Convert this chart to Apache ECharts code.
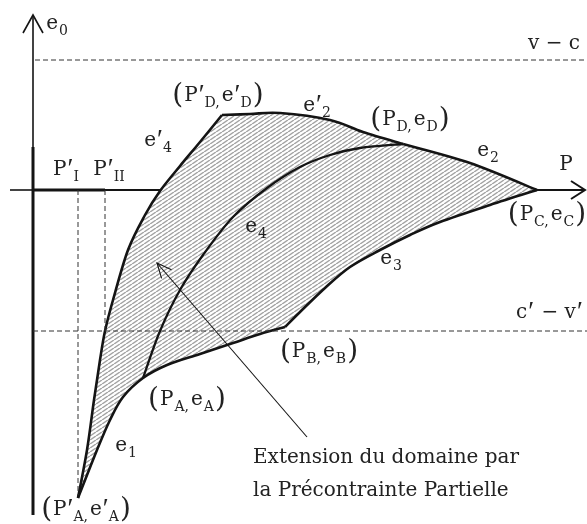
<!DOCTYPE html>
<html>
<head>
<meta charset="utf-8">
<script src="https://cdn.jsdelivr.net/npm/echarts/dist/echarts.min.js"></script>
<style>
  html, body { margin: 0; padding: 0; background: #fff; }
  #chart { width: 587px; height: 524px; }
</style>
</head>
<body>
<div id="chart"></div>
<script>
// Boundary curves of the admissible (P, e0) domain, in axis units.
const curveE4p = [[45,-308],[54,-260],[61,-210],[67,-170],[72,-141],[80,-110],[95,-60],[112,-25],[127,-1],[147,24],[167,48],[189,75]];
const curveE2p = [[189,75],[217,76],[247,77],[297,70],[330,58],[370,46]];
const curveE2  = [[370,46],[437,27],[504,0]];
const curveE3  = [[504,0],[457,-15],[407,-32],[377,-45],[347,-60],[317,-77],[292,-98],[267,-122],[252,-137]];
const curveE1  = [[252,-137],[227,-144],[200,-153],[167,-164],[134,-175],[110,-188],[90,-207],[77,-230],[64,-260],[45,-308]];
const curveE4  = [[110,-188],[127,-141],[147,-100],[170,-65],[200,-27],[234,2],[267,23],[297,35],[327,42],[370,46]];

// Limits: v - c above, c' - v' below, and the P'I / P'II abscissae.
const limitVC  = 130;
const limitCV  = -141;
const pI  = 45;
const pII = 72;
const pA  = -305;

// Axes (P horizontal, e0 vertical).
const axisV_thin  = [[0,175],[0,43]];
const axisV_thick = [[0,43],[0,-325]];
const axisH_left  = [[-23,0],[0,0]];
const axisH_thick = [[0,0],[pII,0]];
const axisH_mid   = [[pII,0],[127,0]];
const axisH_right = [[504,0],[552,0]];
const arrowE0 = [[-10,157],[0,175],[10,157]];
const arrowP  = [[538,9],[552,0],[538,-9]];

// Pointer from the caption to the hatched extension.
const pointer = [[274,-247],[124,-73]];

// Text annotations: anchor (axis units), rich text, alignment.
const labels = [
  { at: [24,166],   text: '{m|e}{s|0}', align: 'center' },
  { at: [521,146],  text: '{m|v − c}', align: 'center' },
  { at: [185,94],   text: '{p|(}{m|P}{q|′}{s|D,}{m|e}{q|′}{s|D}{p|)}', align: 'center' },
  { at: [284,84],   text: '{m|e}{q|′}{s|2}', align: 'center' },
  { at: [377,70],   text: '{p|(}{m|P}{s|D,}{m|e}{s|D}{p|)}', align: 'center' },
  { at: [455,39],   text: '{m|e}{s|2}', align: 'center' },
  { at: [533,25],   text: '{m|P}', align: 'center' },
  { at: [514,-25],  text: '{p|(}{m|P}{s|C,}{m|e}{s|C}{p|)}', align: 'center' },
  { at: [125,49],   text: '{m|e}{q|′}{s|4}', align: 'center' },
  { at: [33,20],    text: '{m|P}{q|′}{s|I}', align: 'center' },
  { at: [76,20],    text: '{m|P}{q|′}{s|II}', align: 'center' },
  { at: [223,-37],  text: '{m|e}{s|4}', align: 'center' },
  { at: [358,-69],  text: '{m|e}{s|3}', align: 'center' },
  { at: [482,-123], text: '{m|c}{q|′}{m| − v}{q|′}', align: 'left' },
  { at: [286,-162], text: '{p|(}{m|P}{s|B,}{m|e}{s|B}{p|)}', align: 'center' },
  { at: [154,-210], text: '{p|(}{m|P}{s|A,}{m|e}{s|A}{p|)}', align: 'center' },
  { at: [93,-256],  text: '{m|e}{s|1}', align: 'center' },
  { at: [220,-268], text: '{t|Extension du domaine par}', align: 'left' },
  { at: [220,-301], text: '{t|la Précontrainte Partielle}', align: 'left' },
  { at: [53,-320],  text: '{p|(}{m|P}{q|′}{s|A,}{m|e}{q|′}{s|A}{p|)}', align: 'center' }
];

const INK = '#141414';
const TEXT = '#222';
const RICH = {
  m: { fontFamily: 'DejaVu Serif', fontSize: 20, lineHeight: 28, verticalAlign: 'middle', fill: TEXT, padding: [0, 1, 0, 1] },
  q: { fontFamily: 'Liberation Serif', fontSize: 27, lineHeight: 28, verticalAlign: 'middle', fill: TEXT },
  s: { fontFamily: 'DejaVu Serif', fontSize: 14, lineHeight: 14, verticalAlign: 'bottom', fill: TEXT, padding: [0, 1, 0, 0] },
  p: { fontFamily: 'DejaVu Serif', fontSize: 28, lineHeight: 28, verticalAlign: 'middle', fill: TEXT },
  t: { fontFamily: 'DejaVu Serif', fontSize: 20, lineHeight: 26, verticalAlign: 'middle', fill: TEXT }
};

// Diagonal hatch tile for the domain fill.
function hatchTile() {
  const c = document.createElement('canvas');
  c.width = 6; c.height = 4;
  const g = c.getContext('2d');
  g.fillStyle = '#fff';
  g.fillRect(0, 0, 6, 4);
  g.strokeStyle = '#a3a3a3';
  g.lineWidth = 1.45;
  [-6, 0, 6].forEach(dx => {
    g.beginPath(); g.moveTo(dx, 4); g.lineTo(dx + 6, 0); g.stroke();
  });
  return c;
}
const hatch = { image: hatchTile(), repeat: 'repeat' };

function toPx(api, pts) { return pts.map(p => api.coord(p)); }

// Catmull-Rom curve through pixel points, as cubic Bezier path data.
function bezierPath(px, withMove) {
  let d = withMove ? 'M' + px[0][0] + ' ' + px[0][1] : '';
  for (let i = 0; i < px.length - 1; i++) {
    const p0 = px[i - 1] || px[i], p1 = px[i], p2 = px[i + 1], p3 = px[i + 2] || px[i + 1];
    const c1 = [p1[0] + (p2[0] - p0[0]) / 6, p1[1] + (p2[1] - p0[1]) / 6];
    const c2 = [p2[0] - (p3[0] - p1[0]) / 6, p2[1] - (p3[1] - p1[1]) / 6];
    d += ' C' + c1[0] + ' ' + c1[1] + ' ' + c2[0] + ' ' + c2[1] + ' ' + p2[0] + ' ' + p2[1];
  }
  return d;
}

function seg(data, width, dashed, z) {
  return {
    type: 'line', data: data, symbol: 'none', silent: true, z: z || 3,
    lineStyle: { color: dashed ? '#333' : INK, width: width, type: dashed ? [5, 3] : 'solid', cap: 'butt', join: 'miter' },
    animation: false
  };
}

const outline = [curveE4p, curveE2p, curveE2, curveE3, curveE1];

const option = {
  animation: false,
  backgroundColor: '#fff',
  grid: { left: 0, right: 0, top: 0, bottom: 0 },
  xAxis: { type: 'value', min: -33, max: 554, show: false },
  yAxis: { type: 'value', min: -334, max: 190, show: false },
  series: [
    {
      type: 'custom', silent: true, z: 2, data: [0],
      renderItem: function (params, api) {
        let d = '';
        outline.forEach((c, i) => { d += bezierPath(toPx(api, c), i === 0); });
        d += ' Z';
        const children = [{ type: 'path', shape: { pathData: d }, style: { fill: hatch, stroke: 'none' } }];
        outline.forEach(c => children.push({
          type: 'path', shape: { pathData: bezierPath(toPx(api, c), true) },
          style: { fill: 'none', stroke: INK, lineWidth: 2.6, lineJoin: 'round' }
        }));
        children.push({
          type: 'path', shape: { pathData: bezierPath(toPx(api, curveE4), true) },
          style: { fill: 'none', stroke: INK, lineWidth: 2.3 }
        });
        return { type: 'group', children: children };
      }
    },
    seg(axisV_thin, 1.6), seg(axisV_thick, 3), seg(axisH_left, 1.6), seg(axisH_thick, 3),
    seg(axisH_mid, 2), seg(axisH_right, 2), seg(arrowE0, 1.6), seg(arrowP, 2),
    seg([[2, limitVC], [554, limitVC]], 1, true, 4),
    seg([[0, limitCV], [554, limitCV]], 1, true, 4),
    seg([[pI, 0], [pI, pA]], 1, true, 4),
    seg([[pII, 0], [pII, limitCV]], 1, true, 4),
    {
      type: 'custom', silent: true, z: 5, data: [0],
      renderItem: function (params, api) {
        const a = api.coord(pointer[0]), b = api.coord(pointer[1]);
        const ang = Math.atan2(a[1] - b[1], a[0] - b[0]);
        const L = 16, spread = 0.42;
        const w1 = [b[0] + L * Math.cos(ang - spread), b[1] + L * Math.sin(ang - spread)];
        const w2 = [b[0] + L * Math.cos(ang + spread), b[1] + L * Math.sin(ang + spread)];
        return {
          type: 'group', children: [
            { type: 'line', shape: { x1: a[0], y1: a[1], x2: b[0], y2: b[1] }, style: { stroke: INK, lineWidth: 1.1 } },
            { type: 'polyline', shape: { points: [w1, b, w2] }, style: { stroke: INK, lineWidth: 1.1, fill: 'none' } }
          ]
        };
      }
    },
    {
      type: 'custom', silent: true, z: 6,
      data: labels.map(l => l.at),
      renderItem: function (params, api) {
        const l = labels[params.dataIndex];
        const pt = api.coord(l.at);
        return {
          type: 'text', x: pt[0], y: pt[1],
          style: { text: l.text, rich: RICH, align: l.align, verticalAlign: 'middle', fill: TEXT }
        };
      }
    }
  ]
};

const chart = echarts.init(document.getElementById('chart'));
chart.setOption(option);
</script>
</body>
</html>
